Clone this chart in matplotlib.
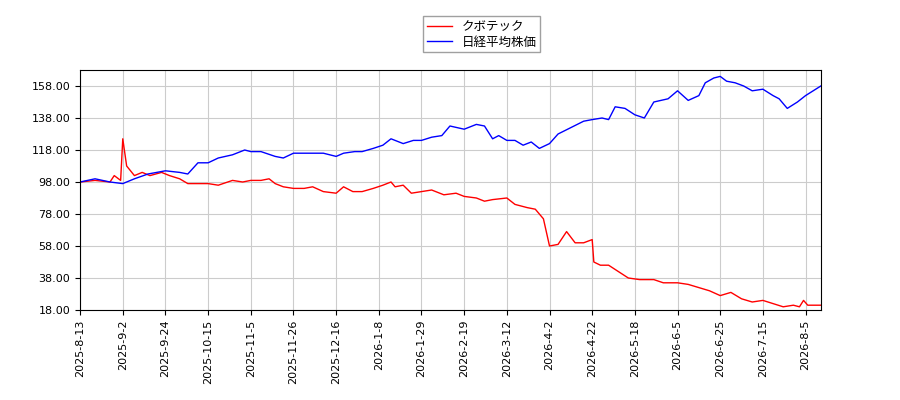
import matplotlib
matplotlib.use("Agg")
import matplotlib.pyplot as plt
import numpy as np
import pandas as pd

plt.rcParams['font.family'] = ['Noto Sans CJK JP', 'DejaVu Sans']

red_dates = ["2025-08-13","2025-08-20","2025-08-27","2025-08-29","2025-09-01","2025-09-02","2025-09-04","2025-09-08","2025-09-12","2025-09-16","2025-09-22","2025-09-26","2025-10-01","2025-10-05","2025-10-10","2025-10-15","2025-10-20","2025-10-27","2025-11-01","2025-11-05","2025-11-10","2025-11-14","2025-11-17","2025-11-21","2025-11-26","2025-12-01","2025-12-05","2025-12-10","2025-12-16","2025-12-20","2025-12-25","2025-12-30","2026-01-05","2026-01-10","2026-01-14","2026-01-16","2026-01-20","2026-01-24","2026-01-29","2026-02-03","2026-02-09","2026-02-15","2026-02-19","2026-02-25","2026-03-01","2026-03-05","2026-03-12","2026-03-16","2026-03-22","2026-03-26","2026-03-30","2026-04-02","2026-04-06","2026-04-10","2026-04-14","2026-04-18","2026-04-22","2026-04-23","2026-04-27","2026-05-02","2026-05-08","2026-05-14","2026-05-20","2026-05-26","2026-05-30","2026-06-05","2026-06-10","2026-06-15","2026-06-20","2026-06-25","2026-06-30","2026-07-05","2026-07-10","2026-07-15","2026-07-20","2026-07-25","2026-07-30","2026-08-02","2026-08-04","2026-08-06","2026-08-12"]
red_values = [98,99,98,102,99,125,108,102,104,102,104,102,100,97,97,97,96,99,98,99,99,100,97,95,94,94,95,92,91,95,92,92,94,96,98,95,96,91,92,93,90,91,89,88,86,87,88,84,82,81,75,58,59,67,60,60,62,48,46,46,42,38,37,37,35,35,34,32,30,27,29,25,23,24,22,20,21,20,24,21,21]

blue_dates = ["2025-08-13","2025-08-20","2025-08-27","2025-09-02","2025-09-08","2025-09-15","2025-09-24","2025-10-01","2025-10-05","2025-10-10","2025-10-15","2025-10-20","2025-10-27","2025-11-02","2025-11-05","2025-11-10","2025-11-17","2025-11-21","2025-11-26","2025-12-01","2025-12-05","2025-12-10","2025-12-16","2025-12-20","2025-12-26","2025-12-30","2026-01-05","2026-01-10","2026-01-14","2026-01-20","2026-01-25","2026-01-29","2026-02-03","2026-02-08","2026-02-12","2026-02-19","2026-02-25","2026-03-01","2026-03-05","2026-03-08","2026-03-12","2026-03-16","2026-03-20","2026-03-24","2026-03-28","2026-04-02","2026-04-06","2026-04-12","2026-04-18","2026-04-22","2026-04-28","2026-05-02","2026-05-06","2026-05-12","2026-05-18","2026-05-22","2026-05-26","2026-06-01","2026-06-05","2026-06-10","2026-06-15","2026-06-18","2026-06-22","2026-06-25","2026-06-28","2026-07-02","2026-07-06","2026-07-10","2026-07-15","2026-07-20","2026-07-23","2026-07-27","2026-08-01","2026-08-05","2026-08-12"]
blue_values = [98,100,98,97,100,103,105,104,103,110,110,113,115,118,117,117,114,113,116,116,116,116,114,116,117,117,119,121,125,122,124,124,126,127,133,131,134,133,125,127,124,124,121,123,119,122,128,132,136,137,138,137,145,144,140,138,148,150,155,149,152,160,163,164,161,160,158,155,156,152,150,144,148,152,158]

tick_labels = ["2025-8-13","2025-9-2","2025-9-24","2025-10-15","2025-11-5","2025-11-26","2025-12-16","2026-1-8","2026-1-29","2026-2-19","2026-3-12","2026-4-2","2026-4-22","2026-5-18","2026-6-5","2026-6-25","2026-7-15","2026-8-5"]
y_ticks = [18,38,58,78,98,118,138,158]

# x axis is by trading-day index: one tick every 14 trading days
tick_dates = pd.to_datetime(tick_labels)
tick_idx = np.arange(len(tick_labels)) * 14
tick_ord = tick_dates.map(pd.Timestamp.toordinal).to_numpy(dtype=float)
end_ord = pd.Timestamp("2026-08-12").toordinal()
ref_ord = np.append(tick_ord, end_ord)
ref_idx = np.append(tick_idx, 243)

def to_idx(dates):
    o = pd.to_datetime(dates).map(pd.Timestamp.toordinal).to_numpy(dtype=float)
    return np.interp(o, ref_ord, ref_idx)

fig = plt.figure(figsize=(9,4), dpi=100)
ax = fig.add_axes([0.089, 0.225, 0.823, 0.6])
ax.plot(to_idx(red_dates), red_values, color='red', lw=1, label='クボテック')
ax.plot(to_idx(blue_dates), blue_values, color='blue', lw=1, label='日経平均株価')
ax.set_xlim(0, 243)
ax.set_ylim(18, 168)
ax.set_yticks(y_ticks)
ax.set_yticklabels([f"{v:.2f}" for v in y_ticks], fontsize=8, family='DejaVu Sans')
ax.set_xticks(tick_idx)
ax.set_xticklabels(tick_labels, rotation=90, fontsize=8, family='DejaVu Sans')
ax.grid(True, color='#cccccc', lw=0.8)
fig.legend(loc='upper center', bbox_to_anchor=(0.535, 0.975), fontsize=9, fancybox=False,
           edgecolor='#888888', borderpad=0.3, labelspacing=0.2)
fig.savefig("out.png")
